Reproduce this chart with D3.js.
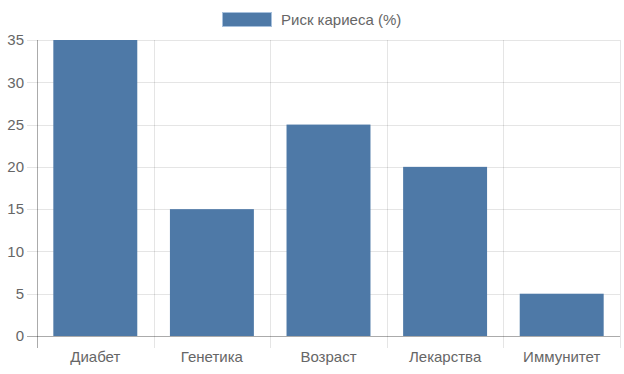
<!DOCTYPE html>
<html>
<head>
<meta charset="utf-8">
<script src="https://cdn.jsdelivr.net/npm/d3@7"></script>
<style>
  body { margin: 0; background: white; }
  text { font-family: "Liberation Sans", Arial, sans-serif; fill: #666; }
</style>
</head>
<body>
<div id="chart"></div>
<script>
// chart data
const categories = ['Диабет', 'Генетика', 'Возраст', 'Лекарства', 'Иммунитет'];
const riskValues = [35, 15, 25, 20, 5];
const yTicks = [0, 5, 10, 15, 20, 25, 30, 35];
const seriesName = 'Риск кариеса (%)';

let width = 624,
    height = 374;

let margin = { top: 40, bottom: 38, left: 37, right: 4 };

let svg = d3.select('#chart')
            .append('svg')
            .attr('width', width)
            .attr('height', height);

// scales
let xScale = d3.scaleBand()
            .domain(categories)
            .range([margin.left, width - margin.right])
            .paddingInner(0)
            .paddingOuter(0);

let yScale = d3.scaleLinear()
            .domain([0, 35])
            .range([height - margin.bottom, margin.top]);

// horizontal grid lines (extend left as tick marks)
svg.append('g')
    .selectAll('line')
    .data(yTicks)
    .enter()
    .append('line')
    .attr('x1', margin.left - 10)
    .attr('x2', width - margin.right)
    .attr('y1', d => Math.round(yScale(d)) + 0.5)
    .attr('y2', d => Math.round(yScale(d)) + 0.5)
    .attr('stroke', 'rgba(0,0,0,0.1)');

// vertical grid lines at category boundaries
let bounds = categories.map(c => xScale(c)).concat([width - margin.right]);
svg.append('g')
    .selectAll('line')
    .data(bounds)
    .enter()
    .append('line')
    .attr('x1', d => Math.round(d) + 0.5)
    .attr('x2', d => Math.round(d) + 0.5)
    .attr('y1', margin.top)
    .attr('y2', height - margin.bottom + 12)
    .attr('stroke', 'rgba(0,0,0,0.1)');

// bars
let barW = xScale.bandwidth() * 0.72;
svg.append('g')
    .selectAll('rect')
    .data(categories)
    .enter()
    .append('rect')
    .attr('x', (d, i) => xScale(d) + (xScale.bandwidth() - barW) / 2)
    .attr('y', (d, i) => yScale(riskValues[i]))
    .attr('width', barW)
    .attr('height', (d, i) => yScale(0) - yScale(riskValues[i]))
    .attr('fill', '#4e79a7');

// axis border lines
svg.append('line')
    .attr('x1', margin.left + 0.5).attr('x2', margin.left + 0.5)
    .attr('y1', margin.top).attr('y2', height - margin.bottom + 12)
    .attr('stroke', 'rgba(0,0,0,0.25)');
svg.append('line')
    .attr('x1', margin.left - 10).attr('x2', width - margin.right)
    .attr('y1', Math.round(yScale(0)) + 0.5).attr('y2', Math.round(yScale(0)) + 0.5)
    .attr('stroke', 'rgba(0,0,0,0.25)');

// y tick labels
svg.append('g')
    .selectAll('text')
    .data(yTicks)
    .enter()
    .append('text')
    .attr('x', margin.left - 13)
    .attr('y', d => yScale(d))
    .attr('dy', '0.35em')
    .attr('text-anchor', 'end')
    .style('font-size', '15px')
    .text(d => d);

// x tick labels
svg.append('g')
    .selectAll('text')
    .data(categories)
    .enter()
    .append('text')
    .attr('x', d => xScale(d) + xScale.bandwidth() / 2)
    .attr('y', height - margin.bottom + 21)
    .attr('dy', '0.35em')
    .attr('text-anchor', 'middle')
    .style('font-size', '15px')
    .text(d => d);

// legend
let legend = svg.append('g');
legend.append('rect')
    .attr('x', 222.5).attr('y', 12.5)
    .attr('width', 49).attr('height', 14)
    .attr('fill', '#4e79a7')
    .attr('stroke', '#a7c0dc');
legend.append('text')
    .attr('x', 281)
    .attr('y', 20)
    .attr('dy', '0.35em')
    .style('font-size', '15px')
    .text(seriesName);
</script>
</body>
</html>
